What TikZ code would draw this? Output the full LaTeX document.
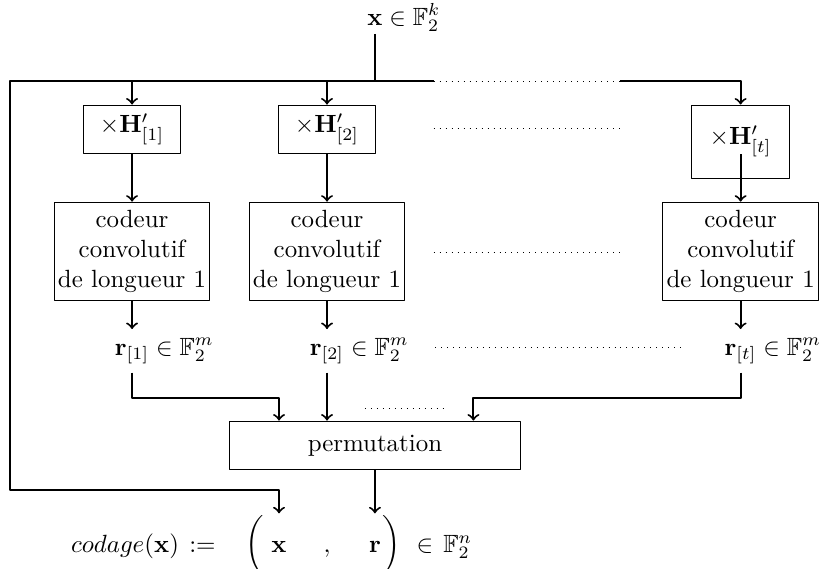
\documentclass[tikz,border=0pt]{standalone}
\usepackage{amsmath,amssymb}
\begin{document}
\begin{tikzpicture}[line join=round, >=to,
	blk/.style={draw, align=center},
	cod/.style={blk, inner xsep=1.5pt},
	mult/.style={blk, minimum width=1.38cm, minimum height=0.69cm},
	flow/.style={thick},
	frm/.style={anchor=base, text height=12pt, text depth=5pt}]
	\useasboundingbox (0,0) rectangle (11.57,-8.015);
	\def \yb{-1.143}
	\def \yr{-5.616}
	\coordinate (bus) at (0.141,\yb);
	% entree
	\node[anchor=base] (xin) at (5.29,-0.353) {$\mathbf{x}\smash{\rlap{${}\in\mathbb{F}_2^k$}}$};
	% multiplications
	\node[mult] (H1) at (1.863,-1.827) {$\times\mathbf{H}'_{[1]}$};
	\node[mult] (H2) at (4.614,-1.827) {$\times\mathbf{H}'_{[2]}$};
	\node[mult, minimum height=1.03cm] (Ht) at (10.45,-1.997) {$\times\mathbf{H}'_{[t]}$};
	% codeurs
	\node[cod] (C1) at (1.863,-3.549) {codeur\\convolutif\\de longueur 1};
	\node[cod] (C2) at (4.614,-3.549) {codeur\\convolutif\\de longueur 1};
	\node[cod] (Ct) at (10.45,-3.549) {codeur\\convolutif\\de longueur 1};
	% sorties
	\node[anchor=base] (r1) at (1.863,-5.009) {$\mathbf{r}_{[1]}\rlap{${}\in\mathbb{F}_2^m$}$};
	\node[anchor=base] (r2) at (4.614,-5.009) {$\mathbf{r}_{[2]}\rlap{${}\in\mathbb{F}_2^m$}$};
	\node[anchor=base] (rt) at (10.45,-5.009) {$\mathbf{r}_{[t]}\rlap{${}\in\mathbb{F}_2^m$}$};
	\node[blk, minimum width=4.1cm, minimum height=0.69cm] (perm) at (5.29,-6.286) {permutation};
	% codage
	\node[frm] (codx) at (1.764,-7.789) {$codage(\mathbf{x})$};
	\node[frm] (def) at (2.857,-7.789) {$:=$};
	\node[frm] (lpar) at (3.598,-7.789) {$\bigg($};
	\node[frm] (cx) at (3.937,-7.789) {$\mathbf{x}$};
	\node[frm] (comma) at (4.614,-7.789) {$,$};
	\node[frm] (cr) at (5.29,-7.789) {$\mathbf{r}$};
	\node[frm] (rpar) at (5.531,-7.789) {$\bigg)$};
	\node[frm] (elt) at (5.997,-7.789) {$\in$};
	\node[frm] (Fn) at (6.46,-7.789) {$\mathbb{F}_2^n$};
	% connexions
	\draw[flow] (xin.south) -- (xin.south |- bus);
	\draw[flow,->] (6.12,\yb) -- (bus) -- (0.141,-6.914) -| (cx.north);
	\draw[dotted] (6.12,\yb) -- (8.75,\yb);
	\draw[flow,->] (8.75,\yb) -| (Ht.north);
	\foreach \i in {1,2}{
		\draw[flow,->] (H\i |- bus) -- (H\i.north);
		\draw[flow,->] (H\i) -- (C\i);
		\draw[flow,->] (C\i) -- (r\i);
	}
	\draw[flow,->] (Ht |- H1.south) -- (Ct);
	\draw[flow,->] (Ct) -- (rt);
	\draw[flow,->] (r1.south) -- (r1.south |- 0,\yr) -| (cx |- perm.north);
	\draw[flow,->] (r2) -- (r2 |- perm.north);
	\draw[flow,->] (rt.south) -- (rt.south |- 0,\yr) -| ([xshift=1.39cm]perm.north);
	\draw[flow,->] (perm) -- (cr);
	% pointilles
	\draw[dotted] (6.12,-1.82) -- (8.75,-1.82);
	\draw[dotted] (6.12,-3.556) -- (8.75,-3.556);
	\draw[dotted] (6.14,-4.91) -- (9.62,-4.91);
	\draw[dotted] (5.15,-5.757) -- (6.28,-5.757);
\end{tikzpicture}
\end{document}
